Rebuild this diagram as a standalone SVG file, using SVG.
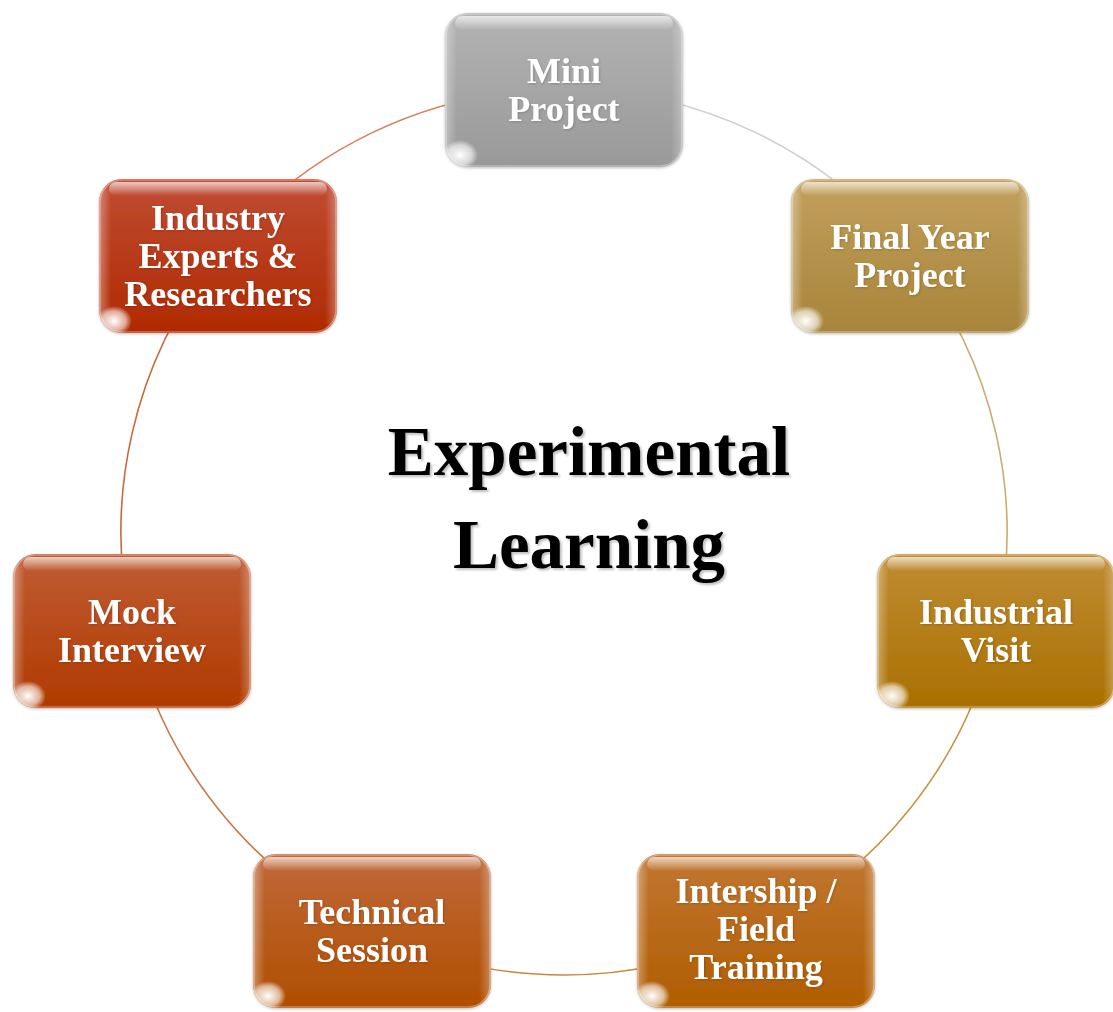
<svg xmlns="http://www.w3.org/2000/svg" xmlns:xlink="http://www.w3.org/1999/xlink" width="1113" height="1012" viewBox="0 0 1113 1012">
  <defs>
    <style>
      .arc { fill: none; stroke-width: 1.6; }
      .label { font-family: "Liberation Serif", "Times New Roman", serif; font-weight: bold; font-size: 36px; fill: #ffffff; text-anchor: middle; filter: url(#txtShadow); }
      .title { font-family: "Liberation Serif", "Times New Roman", serif; font-weight: bold; font-size: 69px; fill: #000000; text-anchor: middle; filter: url(#titleShadow); }
    </style>
    <filter id="txtShadow" x="-10%" y="-20%" width="120%" height="140%">
      <feDropShadow dx="1" dy="1" stdDeviation="0.8" flood-color="#000000" flood-opacity="0.18"/>
    </filter>
    <filter id="titleShadow" x="-10%" y="-20%" width="120%" height="140%">
      <feDropShadow dx="2" dy="2" stdDeviation="1.2" flood-color="#000000" flood-opacity="0.25"/>
    </filter>
    <filter id="boxShadow" x="-10%" y="-10%" width="120%" height="120%">
      <feDropShadow dx="0" dy="1" stdDeviation="1.5" flood-color="#000000" flood-opacity="0.25"/>
    </filter>

    <!-- body fills, lighter at the top -->
    <linearGradient id="gMini" x1="0" y1="0" x2="0" y2="1">
      <stop offset="0" stop-color="#b3b3b3"/><stop offset="1" stop-color="#999999"/>
    </linearGradient>
    <linearGradient id="gFinal" x1="0" y1="0" x2="0" y2="1">
      <stop offset="0" stop-color="#c29f5c"/><stop offset="1" stop-color="#a8853a"/>
    </linearGradient>
    <linearGradient id="gVisit" x1="0" y1="0" x2="0" y2="1">
      <stop offset="0" stop-color="#bf8c34"/><stop offset="1" stop-color="#aa7000"/>
    </linearGradient>
    <linearGradient id="gIntern" x1="0" y1="0" x2="0" y2="1">
      <stop offset="0" stop-color="#c17632"/><stop offset="1" stop-color="#b05d00"/>
    </linearGradient>
    <linearGradient id="gTech" x1="0" y1="0" x2="0" y2="1">
      <stop offset="0" stop-color="#c0693a"/><stop offset="1" stop-color="#b04e00"/>
    </linearGradient>
    <linearGradient id="gMock" x1="0" y1="0" x2="0" y2="1">
      <stop offset="0" stop-color="#c05c34"/><stop offset="1" stop-color="#b03a00"/>
    </linearGradient>
    <linearGradient id="gExpert" x1="0" y1="0" x2="0" y2="1">
      <stop offset="0" stop-color="#c04c34"/><stop offset="1" stop-color="#b02a00"/>
    </linearGradient>

    <!-- gloss overlay shared by all boxes -->
    <linearGradient id="topShine" x1="0" y1="0" x2="0" y2="1">
      <stop offset="0" stop-color="#ffffff" stop-opacity="0.7"/>
      <stop offset="1" stop-color="#ffffff" stop-opacity="0"/>
    </linearGradient>
    <linearGradient id="sideShine" x1="0" y1="0" x2="1" y2="0">
      <stop offset="0" stop-color="#ffffff" stop-opacity="0.35"/>
      <stop offset="0.05" stop-color="#ffffff" stop-opacity="0"/>
      <stop offset="0.95" stop-color="#ffffff" stop-opacity="0"/>
      <stop offset="1" stop-color="#ffffff" stop-opacity="0.3"/>
    </linearGradient>
    <radialGradient id="cornerSpot" cx="0.5" cy="0.5" r="0.5">
      <stop offset="0" stop-color="#ffffff" stop-opacity="1"/>
      <stop offset="0.65" stop-color="#ffffff" stop-opacity="0.6"/>
      <stop offset="1" stop-color="#ffffff" stop-opacity="0"/>
    </radialGradient>
    <clipPath id="boxClip">
      <rect x="0" y="0" width="238" height="154" rx="23" ry="23"/>
    </clipPath>
    <g id="gloss">
      <g clip-path="url(#boxClip)">
        <rect x="0" y="0" width="238" height="154" fill="url(#sideShine)"/>
        <rect x="10" y="3" width="218" height="14" rx="7" fill="url(#topShine)"/>
        <ellipse cx="15" cy="142" rx="18" ry="15" fill="url(#cornerSpot)"/>
      </g>
      <rect x="1" y="1" width="236" height="152" rx="22" ry="22" fill="none" stroke="#ffffff" stroke-opacity="0.35" stroke-width="1.5"/>
    </g>
  </defs>

  <rect width="1113" height="1012" fill="#ffffff"/>

  <!-- ring of connectors, centre (564,532), radius 443 -->
  <g id="connectors">
    <path class="arc" stroke="#cfcfcf" d="M564,89 A443,443 0 0 1 910.4,255.8"/>
    <path class="arc" stroke="#cbab70" d="M910.4,255.8 A443,443 0 0 1 995.9,630.6"/>
    <path class="arc" stroke="#c49440" d="M995.9,630.6 A443,443 0 0 1 756.2,931.1"/>
    <path class="arc" stroke="#c8883c" d="M756.2,931.1 A443,443 0 0 1 371.8,931.1"/>
    <path class="arc" stroke="#c8784a" d="M371.8,931.1 A443,443 0 0 1 132.1,630.6"/>
    <path class="arc" stroke="#c86a3e" d="M132.1,630.6 A443,443 0 0 1 217.6,255.8"/>
    <path class="arc" stroke="#d8805e" d="M217.6,255.8 A443,443 0 0 1 564,89"/>
  </g>

  <g id="node-mini" transform="translate(445,13)">
    <rect width="238" height="154" rx="23" fill="url(#gMini)" filter="url(#boxShadow)"/>
    <use href="#gloss"/>
    <text class="label" x="119" y="70">Mini</text>
    <text class="label" x="119" y="108">Project</text>
  </g>

  <g id="node-final" transform="translate(791,179)">
    <rect width="238" height="154" rx="23" fill="url(#gFinal)" filter="url(#boxShadow)"/>
    <use href="#gloss"/>
    <text class="label" x="119" y="70">Final Year</text>
    <text class="label" x="119" y="108">Project</text>
  </g>

  <g id="node-visit" transform="translate(877,554)">
    <rect width="238" height="154" rx="23" fill="url(#gVisit)" filter="url(#boxShadow)"/>
    <use href="#gloss"/>
    <text class="label" x="119" y="70">Industrial</text>
    <text class="label" x="119" y="108">Visit</text>
  </g>

  <g id="node-intern" transform="translate(637,854)">
    <rect width="238" height="154" rx="23" fill="url(#gIntern)" filter="url(#boxShadow)"/>
    <use href="#gloss"/>
    <text class="label" x="119" y="49">Intership /</text>
    <text class="label" x="119" y="87">Field</text>
    <text class="label" x="119" y="125">Training</text>
  </g>

  <g id="node-tech" transform="translate(253,854)">
    <rect width="238" height="154" rx="23" fill="url(#gTech)" filter="url(#boxShadow)"/>
    <use href="#gloss"/>
    <text class="label" x="119" y="70">Technical</text>
    <text class="label" x="119" y="108">Session</text>
  </g>

  <g id="node-mock" transform="translate(13,554)">
    <rect width="238" height="154" rx="23" fill="url(#gMock)" filter="url(#boxShadow)"/>
    <use href="#gloss"/>
    <text class="label" x="119" y="70">Mock</text>
    <text class="label" x="119" y="108">Interview</text>
  </g>

  <g id="node-experts" transform="translate(99,179)">
    <rect width="238" height="154" rx="23" fill="url(#gExpert)" filter="url(#boxShadow)"/>
    <use href="#gloss"/>
    <text class="label" x="119" y="51">Industry</text>
    <text class="label" x="119" y="89">Experts &amp;</text>
    <text class="label" x="119" y="127">Researchers</text>
  </g>

  <g id="title">
    <text class="title" x="589" y="475">Experimental</text>
    <text class="title" x="589" y="568">Learning</text>
  </g>
</svg>
